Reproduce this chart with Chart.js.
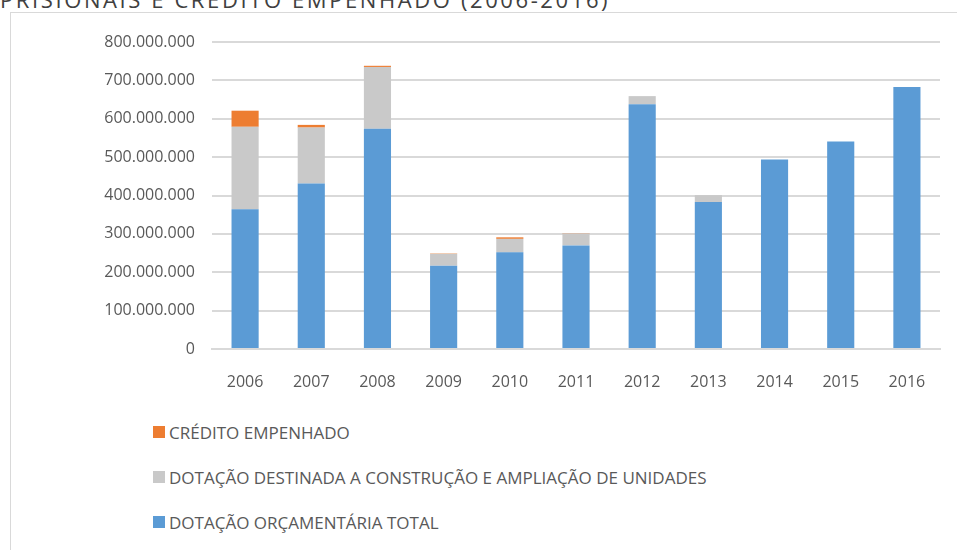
<!DOCTYPE html>
<html lang="pt-br">

<head>
    <meta charset="UTF-8">
    <title>DOTAÇÃO E CRÉDITO EMPENHADO</title>
    <script src="https://cdn.jsdelivr.net/npm/chart.js@4/dist/chart.umd.min.js"></script>
    <style>
        body { margin: 0; background: white; overflow: hidden; width: 957px; height: 550px; position: relative; }
        #titulo { position: absolute; left: 0; top: -16px; font-family: 'Open Sans', sans-serif; font-size: 22px; letter-spacing: 2.6px; color: #404040; white-space: nowrap; }
        #caixa { position: absolute; left: 10px; top: 12px; width: 970px; height: 560px; border: 1px solid #d9d9d9; }
        #area_grafico { position: absolute; left: 11px; top: 15px; width: 946px; height: 390px; }
        #legenda { position: absolute; left: 153px; top: 420px; font-family: 'Open Sans', sans-serif; font-size: 17px; color: #595959; }
        .item { display: flex; align-items: center; height: 24px; margin-bottom: 21px; white-space: nowrap; }
        .quadrado { width: 12px; height: 12px; margin-right: 4px; }
    </style>
</head>

<body>
    <div id="titulo">PRISIONAIS E CRÉDITO EMPENHADO (2006-2016)</div>
    <div id="caixa"></div>
    <div id="area_grafico"><canvas id="canvas_grafico"></canvas></div>
    <div id="legenda"></div>
</body>

</html>

<script>
    // valores em reais
    var anos = ['2006', '2007', '2008', '2009', '2010', '2011', '2012', '2013', '2014', '2015', '2016']
    var dotacao_total = [364000000, 431000000, 574000000, 217000000, 252000000, 270000000, 638000000, 383000000, 494000000, 541000000, 683000000]
    var dotacao_construcao = [215000000, 146000000, 161000000, 31000000, 35000000, 31000000, 21000000, 18000000, 0, 0, 0]
    var credito_empenhado = [42000000, 7000000, 3000000, 1000000, 4000000, 1000000, 0, 0, 0, 0, 0]

    var nomes = ['DOTAÇÃO ORÇAMENTÁRIA TOTAL', 'DOTAÇÃO DESTINADA A CONSTRUÇÃO E AMPLIAÇÃO DE UNIDADES', 'CRÉDITO EMPENHADO']
    var cores = ['#5b9bd5', '#c9c9c9', '#ed7d31']

    function formatar(valor) {
        return String(valor).replace(/\B(?=(\d{3})+(?!\d))/g, '.')
    }

    const data = {
        labels: anos,
        datasets: [
            { label: nomes[0], data: dotacao_total, backgroundColor: cores[0] },
            { label: nomes[1], data: dotacao_construcao, backgroundColor: cores[1] },
            { label: nomes[2], data: credito_empenhado, backgroundColor: cores[2] }
        ]
    };

    const config = {
        type: 'bar',
        data: data,
        options: {
            responsive: true,
            maintainAspectRatio: false,
            animation: false,
            datasets: { bar: { barPercentage: 0.41, categoryPercentage: 1 } },
            layout: { padding: { top: 27, right: 17 } },
            plugins: { legend: { display: false }, tooltip: { enabled: false } },
            scales: {
                x: {
                    stacked: true,
                    grid: { display: false, drawTicks: false },
                    border: { display: true, color: '#d9d9d9', width: 2 },
                    ticks: { color: '#595959', padding: 24, font: { family: 'Open Sans', size: 16 } },
                    afterFit: function (scale) { scale.height = 56 }
                },
                y: {
                    stacked: true,
                    min: 0,
                    max: 800000000,
                    grid: { color: '#d9d9d9', lineWidth: 2, drawTicks: false },
                    border: { display: false },
                    ticks: {
                        stepSize: 100000000,
                        color: '#595959',
                        padding: 17,
                        font: { family: 'Open Sans', size: 16 },
                        callback: function (v) { return formatar(v) }
                    },
                    afterFit: function (scale) { scale.width = 201 }
                }
            }
        }
    };

    const myChart = new Chart(document.getElementById('canvas_grafico'), config);

    // legenda na ordem do excel (de cima pra baixo)
    var legenda = document.getElementById('legenda')
    for (var i = nomes.length - 1; i >= 0; i--) {
        legenda.innerHTML += '<div class="item"><div class="quadrado" style="background:' + cores[i] + '"></div>' + nomes[i] + '</div>'
    }
</script>
